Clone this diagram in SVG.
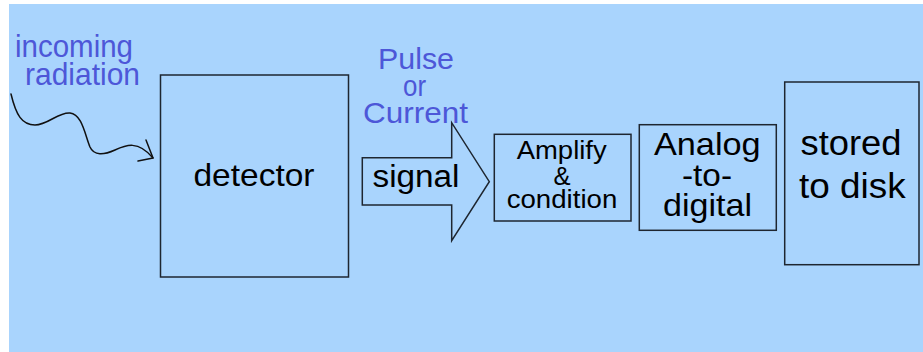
<svg xmlns="http://www.w3.org/2000/svg" width="923" height="352" viewBox="0 0 923 352">
<style>
.box{fill:none;stroke:#1e2630;stroke-width:1.5}
.t{font-family:"Liberation Sans",Arial,Helvetica,sans-serif;fill:#000;text-anchor:middle}
.lbl{font-family:"Liberation Sans",Arial,Helvetica,sans-serif;fill:#4d57d8}
.wire{fill:none;stroke:#111;stroke-width:1.5;stroke-linecap:round;stroke-linejoin:round}
</style>
<rect x="0" y="0" width="923" height="352" fill="#ffffff"/>
<rect x="9" y="4" width="914" height="348" fill="#a9d4fd"/>

<g id="label-incoming">
<text class="lbl" x="15" y="57" font-size="32" textLength="118" lengthAdjust="spacingAndGlyphs">incoming</text>
<text class="lbl" x="25" y="85" font-size="32" textLength="115" lengthAdjust="spacingAndGlyphs">radiation</text>
</g>

<g id="label-pulse">
<text class="lbl" x="416" y="69" font-size="30" text-anchor="middle" textLength="76" lengthAdjust="spacingAndGlyphs">Pulse</text>
<text class="lbl" x="414.5" y="96" font-size="30" text-anchor="middle" textLength="23" lengthAdjust="spacingAndGlyphs">or</text>
<text class="lbl" x="415.5" y="123" font-size="30" text-anchor="middle" textLength="105" lengthAdjust="spacingAndGlyphs">Current</text>
</g>

<g id="connectors">
<path class="wire" d="M11,94 C16,115 22,125 35,125 C48,125 58,112 70,113 C82,114 85,135 90,147 C94,156 104,155 115,150 C126,145 138,140 153,158"/>
<path class="wire" d="M146,140 L153,158 L138,161"/>
</g>

<g id="detector">
<rect class="box" x="160.5" y="75" width="188" height="202"/>
<text class="t" x="254" y="186" font-size="32" textLength="121" lengthAdjust="spacingAndGlyphs">detector</text>
</g>

<g id="signal">
<polygon class="box" points="362.3,157.7 451.7,157.7 451.7,122.7 489.3,181.7 451.7,240.7 451.7,205 362.3,205"/>
<text class="t" x="416" y="187" font-size="31" textLength="87" lengthAdjust="spacingAndGlyphs">signal</text>
</g>

<g id="amplify">
<rect class="box" x="494.3" y="134.3" width="136.7" height="86.7"/>
<text class="t" x="561.7" y="159.3" font-size="26" textLength="90" lengthAdjust="spacingAndGlyphs">Amplify</text>
<text class="t" x="562" y="185" font-size="26" textLength="17" lengthAdjust="spacingAndGlyphs">&amp;</text>
<text class="t" x="562" y="208.3" font-size="26" textLength="110.6" lengthAdjust="spacingAndGlyphs">condition</text>
</g>

<g id="adc">
<rect class="box" x="639.3" y="124.7" width="137" height="105.6"/>
<text class="t" x="707.3" y="154.5" font-size="32" textLength="106.7" lengthAdjust="spacingAndGlyphs">Analog</text>
<text class="t" x="707" y="185.5" font-size="32" textLength="50" lengthAdjust="spacingAndGlyphs">-to-</text>
<text class="t" x="707.5" y="216" font-size="32" textLength="89" lengthAdjust="spacingAndGlyphs">digital</text>
</g>

<g id="storage">
<rect class="box" x="784.7" y="82" width="134.3" height="182.7"/>
<text class="t" x="851" y="155" font-size="35" textLength="101" lengthAdjust="spacingAndGlyphs">stored</text>
<text class="t" x="852.4" y="198.3" font-size="35" textLength="106.7" lengthAdjust="spacingAndGlyphs">to disk</text>
</g>
</svg>
